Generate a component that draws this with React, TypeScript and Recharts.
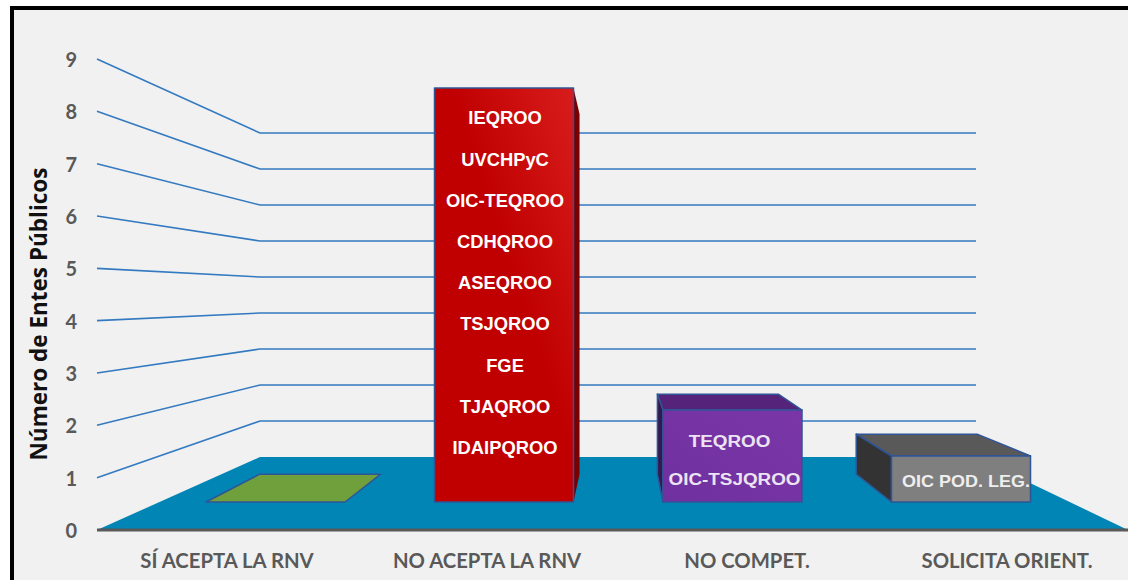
import { Bar, BarChart, ReferenceArea, ReferenceLine, XAxis, YAxis } from "recharts";

const categories = ["SÍ ACEPTA LA RNV", "NO ACEPTA LA RNV", "NO COMPET.", "SOLICITA ORIENT."];
const values = [0, 9, 2, 1];
const yTicks = [0, 1, 2, 3, 4, 5, 6, 7, 8, 9];
const wallTicks = [1, 2, 3, 4, 5, 6, 7, 8, 9];

const noCompetEntes = ["TEQROO", "OIC-TSJQROO"];
const solicitaEntes = ["OIC POD. LEG."];
const noAceptaEntes = [
  "IEQROO",
  "UVCHPyC",
  "OIC-TEQROO",
  "CDHQROO",
  "ASEQROO",
  "TSJQROO",
  "FGE",
  "TJAQROO",
  "IDAIPQROO",
];
const entes = [[], noAceptaEntes, noCompetEntes, solicitaEntes];

const data = categories.map((name, i) => ({ name, value: values[i], entes: entes[i] }));

const W = 1140;
const H = 580;
const PLOT = { left: 97, right: 1137, top: 59, bottom: 530 };
// back wall, in pixels
const WALL = { left: 260, right: 976, base: 457, unit: 36 };
// bars sit on the floor, on their own scale
const BAR_BASE = 502;
const BAR_UNIT = 46;
// every bar recedes to the same vanishing point
const VP = { x: 620, y: 288, k: 0.87 };

const wallDomain = [(WALL.base - PLOT.bottom) / WALL.unit, (WALL.base - PLOT.top) / WALL.unit];
const barDomain = [(BAR_BASE - PLOT.bottom) / BAR_UNIT, (BAR_BASE - PLOT.top) / BAR_UNIT];

const LINE_COLOR = "#337ac0";
const EDGE = "#2f5597";
const AXIS_TEXT = "#595959";

const skins = [
  { front: "#70a03c", side: "#70a03c", top: "#70a03c", sideEdge: EDGE },
  { front: "url(#redFront)", side: "#7a0000", top: "#7a0000", sideEdge: "none" },
  { front: "url(#purpleFront)", side: "#35184f", top: "#56237a", sideEdge: EDGE },
  { front: "#7f7f7f", side: "#333333", top: "#595959", sideEdge: EDGE },
];

const labelLayouts = [
  { first: 0, step: 0, size: 0, fill: "#fff", dx: [], stretch: 1 },
  { first: 30, step: 41.2, size: 18, fill: "#ffffff", dx: [1], stretch: 1.02 },
  { first: 31, step: 38, size: 17, fill: "#ece4f2", dx: [-3, 2], stretch: 1.11 },
  { first: 25, step: 0, size: 16.5, fill: "#eeeeee", dx: [5], stretch: 1.09 },
];

const back = (x: number, y: number) => [
  VP.x + (x - VP.x) * VP.k,
  VP.y + (y - VP.y) * VP.k,
];

const poly = (pts: number[][]) => pts.map((p) => p.join(",")).join(" ");

const Box3D = (props: any) => {
  const { x, y, width, height, index, payload } = props;
  const skin = skins[index];
  const layout = labelLayouts[index];
  const r = x + width;
  const b = y + height;
  const [bl, bt] = back(x, y);
  const [br] = back(r, y);
  const [, bb] = back(x, b);

  return (
    <g stroke={EDGE} strokeWidth={1.5} strokeLinejoin="round">
      {y > VP.y && <polygon points={poly([[x, y], [r, y], [br, bt], [bl, bt]])} fill={skin.top} />}
      {r < VP.x && height > 0 && (
        <polygon points={poly([[r, y], [br, bt], [br, bb], [r, b]])} fill={skin.side} stroke={skin.sideEdge} />
      )}
      {x > VP.x && height > 0 && (
        <polygon points={poly([[x, y], [bl, bt], [bl, bb], [x, b]])} fill={skin.side} stroke={skin.sideEdge} />
      )}
      {height > 0 && <rect x={x} y={y} width={width} height={height} fill={skin.front} />}
      {payload.entes.map((label: string, i: number) => {
        const cx = x + width / 2 + (layout.dx[i] ?? layout.dx[0]);
        const cy = y + layout.first + i * layout.step;
        return (
          <text
            key={label}
            transform={`translate(${cx} ${cy}) scale(${layout.stretch} 1)`}
            dy="0.36em"
            textAnchor="middle"
            stroke="none"
            fill={layout.fill}
            fontFamily="Liberation Sans"
            fontWeight={700}
            fontSize={layout.size}
          >
            {label}
          </text>
        );
      })}
    </g>
  );
};

const Floor = (props: any) => {
  const { y, height } = props;
  return (
    <polygon
      points={poly([
        [PLOT.left, y + height],
        [WALL.left, y],
        [WALL.right, y],
        [1128, y + height],
      ])}
      fill="#0085b5"
    />
  );
};

const wallLine = (tick: number) => (props: any) => {
  const frontY = PLOT.bottom - (tick / 9) * (PLOT.bottom - PLOT.top);
  return (
    <polyline
      points={poly([
        [PLOT.left, frontY],
        [WALL.left, props.y1],
        [WALL.right, props.y1],
      ])}
      fill="none"
      stroke={LINE_COLOR}
      strokeWidth={1.6}
    />
  );
};

const AxisTitle = () => (
  <text
    x={39}
    y={314}
    transform="rotate(-90 39 314)"
    dy="0.36em"
    textAnchor="middle"
    fill="#111111"
    fontFamily="Open Sans"
    fontWeight={700}
    fontSize={22.5}
  >
    Número de Entes Públicos
  </text>
);

export default function App() {
  return (
    <div style={{ position: "absolute", left: 0, top: 0, width: 1128, height: H, overflow: "hidden", background: "#fff" }}>
      <div
        style={{
          position: "absolute",
          left: 10,
          top: 6,
          right: -10,
          bottom: -10,
          border: "4px solid #000",
          background: "#f1f1f1",
        }}
      />
      <BarChart
        width={W}
        height={H}
        data={data}
        margin={{ top: PLOT.top, right: W - PLOT.right, bottom: 0, left: 0 }}
        barSize={139}
        style={{ position: "absolute", left: 0, top: 0 }}
      >
        <defs>
          <linearGradient id="redFront" x1="0" y1="1" x2="1" y2="0">
            <stop offset="0.55" stopColor="#c00000" />
            <stop offset="1" stopColor="#d81c1c" />
          </linearGradient>
          <linearGradient id="purpleFront" x1="0" y1="1" x2="1" y2="0">
            <stop offset="0" stopColor="#7030a0" />
            <stop offset="1" stopColor="#7a36a6" />
          </linearGradient>
        </defs>
        <XAxis
          xAxisId="labels"
          dataKey="name"
          height={50}
          tickLine={false}
          axisLine={{ stroke: "#595959", strokeWidth: 3 }}
          tick={{ fill: AXIS_TEXT, fontFamily: "Lato", fontWeight: 700, fontSize: 20.3 }}
          tickMargin={18}
          interval={0}
        />
        <XAxis xAxisId="bars" orientation="top" height={0} dataKey="name" hide padding={{ left: 64, right: 62 }} />
        <YAxis
          yAxisId="front"
          width={PLOT.left}
          domain={[0, 9]}
          ticks={yTicks}
          interval={0}
          tickLine={false}
          axisLine={false}
          tickMargin={14}
          tick={{ fill: AXIS_TEXT, fontFamily: "Lato", fontWeight: 700, fontSize: 20, dy: 1 }}
          label={<AxisTitle />}
        />
        <YAxis yAxisId="wall" orientation="right" width={0} hide domain={wallDomain} allowDataOverflow />
        <YAxis yAxisId="bar" orientation="right" width={0} hide domain={barDomain} allowDataOverflow />
        <ReferenceArea
          xAxisId="labels"
          yAxisId="wall"
          y1={wallDomain[0]}
          y2={0}
          shape={<Floor />}
          ifOverflow="visible"
          zIndex={50}
        />
        {wallTicks.map((tick) => (
          <ReferenceLine
            key={tick}
            xAxisId="labels"
            yAxisId="wall"
            y={tick}
            shape={wallLine(tick)}
            zIndex={60}
          />
        ))}
        {/* carries the visible axes, which otherwise stay blank */}
        <Bar xAxisId="labels" yAxisId="front" dataKey="value" shape={() => null} isAnimationActive={false} />
        <Bar
          xAxisId="bars"
          yAxisId="bar"
          dataKey="value"
          shape={Box3D}
          isAnimationActive={false}
        />
      </BarChart>
    </div>
  );
}
